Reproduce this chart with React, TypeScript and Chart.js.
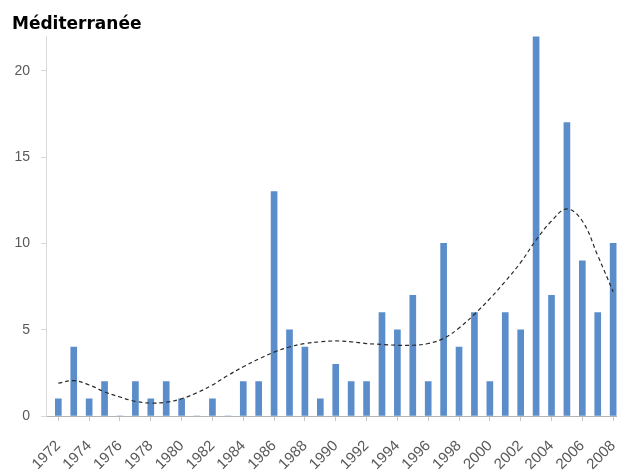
import React, { useEffect, useRef } from 'react';
import { Chart, registerables } from 'chart.js';

Chart.register(...registerables);

const chartTitle = 'Méditerranée';

const years = [
  1972, 1973, 1974, 1975, 1976, 1977, 1978, 1979, 1980, 1981,
  1982, 1983, 1984, 1985, 1986, 1987, 1988, 1989, 1990, 1991,
  1992, 1993, 1994, 1995, 1996, 1997, 1998, 1999, 2000, 2001,
  2002, 2003, 2004, 2005, 2006, 2007, 2008,
];

const counts = [
  1, 4, 1, 2, 0, 2, 1, 2, 1, 0,
  1, 0, 2, 2, 13, 5, 4, 1, 3, 2,
  2, 6, 5, 7, 2, 10, 4, 6, 2, 6,
  5, 22, 7, 17, 9, 6, 10,
];

const trend = [
  1.9, 2.05, 1.8, 1.4, 1.1, 0.85, 0.75, 0.8, 1.0, 1.35,
  1.8, 2.35, 2.85, 3.3, 3.7, 4.0, 4.2, 4.3, 4.35, 4.3,
  4.2, 4.15, 4.1, 4.1, 4.2, 4.5, 5.1, 5.9, 6.8, 7.8,
  8.9, 10.2, 11.3, 12.0, 11.3, 9.3, 7.2,
];

const xTickLabels = [
  1972, 1974, 1976, 1978, 1980, 1982, 1984, 1986, 1988, 1990,
  1992, 1994, 1996, 1998, 2000, 2002, 2004, 2006, 2008,
];
const yTickValues = [0, 5, 10, 15, 20];

export default function App() {
  const ref = useRef<HTMLCanvasElement>(null);

  useEffect(() => {
    document.body.style.margin = '0';
    const canvas = ref.current;
    if (!canvas) return;

    const chart = new Chart(canvas, {
      type: 'bar',
      data: {
        datasets: [
          {
            type: 'line',
            label: 'Tendance',
            data: years.map((yr, i) => ({ x: yr, y: trend[i] })),
            borderColor: '#2a2a2a',
            borderWidth: 1.2,
            borderDash: [4, 3],
            pointRadius: 0,
            tension: 0.4,
            fill: false,
            order: 0,
          } as any,
          {
            type: 'bar',
            label: chartTitle,
            data: years.map((yr, i) => ({ x: yr, y: counts[i] })),
            backgroundColor: '#5a8dca',
            borderWidth: 0,
            barThickness: 6,
            order: 1,
          } as any,
        ],
      },
      options: {
        responsive: false,
        animation: false,
        devicePixelRatio: 1,
        layout: { padding: { left: 12, right: 0, top: 0, bottom: 0 } },
        plugins: {
          legend: { display: false },
          tooltip: { enabled: false },
          title: {
            display: true,
            text: chartTitle,
            align: 'start',
            color: '#000000',
            font: { family: 'DejaVu Sans', size: 17, weight: 'bold' },
            padding: { top: 14, bottom: 2 },
          },
        },
        scales: {
          x: {
            type: 'linear',
            min: 1971.2,
            max: 2008.25,
            bounds: 'data',
            offset: false,
            grid: {
              display: true,
              offset: false,
              drawOnChartArea: false,
              drawTicks: true,
              tickLength: 5,
              color: '#c8c8c8',
            },
            border: { display: true, color: '#b4b4b4', width: 1 },
            afterBuildTicks: (scale: any) => {
              scale.ticks = xTickLabels.map((v) => ({ value: v }));
            },
            ticks: {
              autoSkip: false,
              minRotation: 45,
              maxRotation: 45,
              padding: 16,
              color: '#595959',
              font: { family: 'Liberation Sans', size: 15 },
              callback: (v: any) => String(v),
            },
            afterFit: (scale: any) => {
              scale.height = 54;
              scale.paddingLeft = 0;
              scale.paddingRight = 0;
            },
          },
          y: {
            type: 'linear',
            min: 0,
            max: 22,
            bounds: 'data',
            grid: {
              display: true,
              drawOnChartArea: false,
              drawTicks: true,
              tickLength: 5,
              color: '#d9d9d9',
            },
            border: { display: true, color: '#d9d9d9', width: 1 },
            afterBuildTicks: (scale: any) => {
              scale.ticks = yTickValues.map((v) => ({ value: v }));
            },
            ticks: {
              padding: 11,
              color: '#595959',
              font: { family: 'Liberation Sans', size: 14 },
              callback: (v: any) => String(v),
            },
            afterFit: (scale: any) => {
              scale.width = 34;
              scale.paddingTop = 0;
              scale.paddingBottom = 0;
            },
          },
        },
      } as any,
    });

    return () => chart.destroy();
  }, []);

  return (
    <div style={{ width: 617, height: 470 }}>
      <canvas ref={ref} width={617} height={470} style={{ display: 'block' }} />
    </div>
  );
}
